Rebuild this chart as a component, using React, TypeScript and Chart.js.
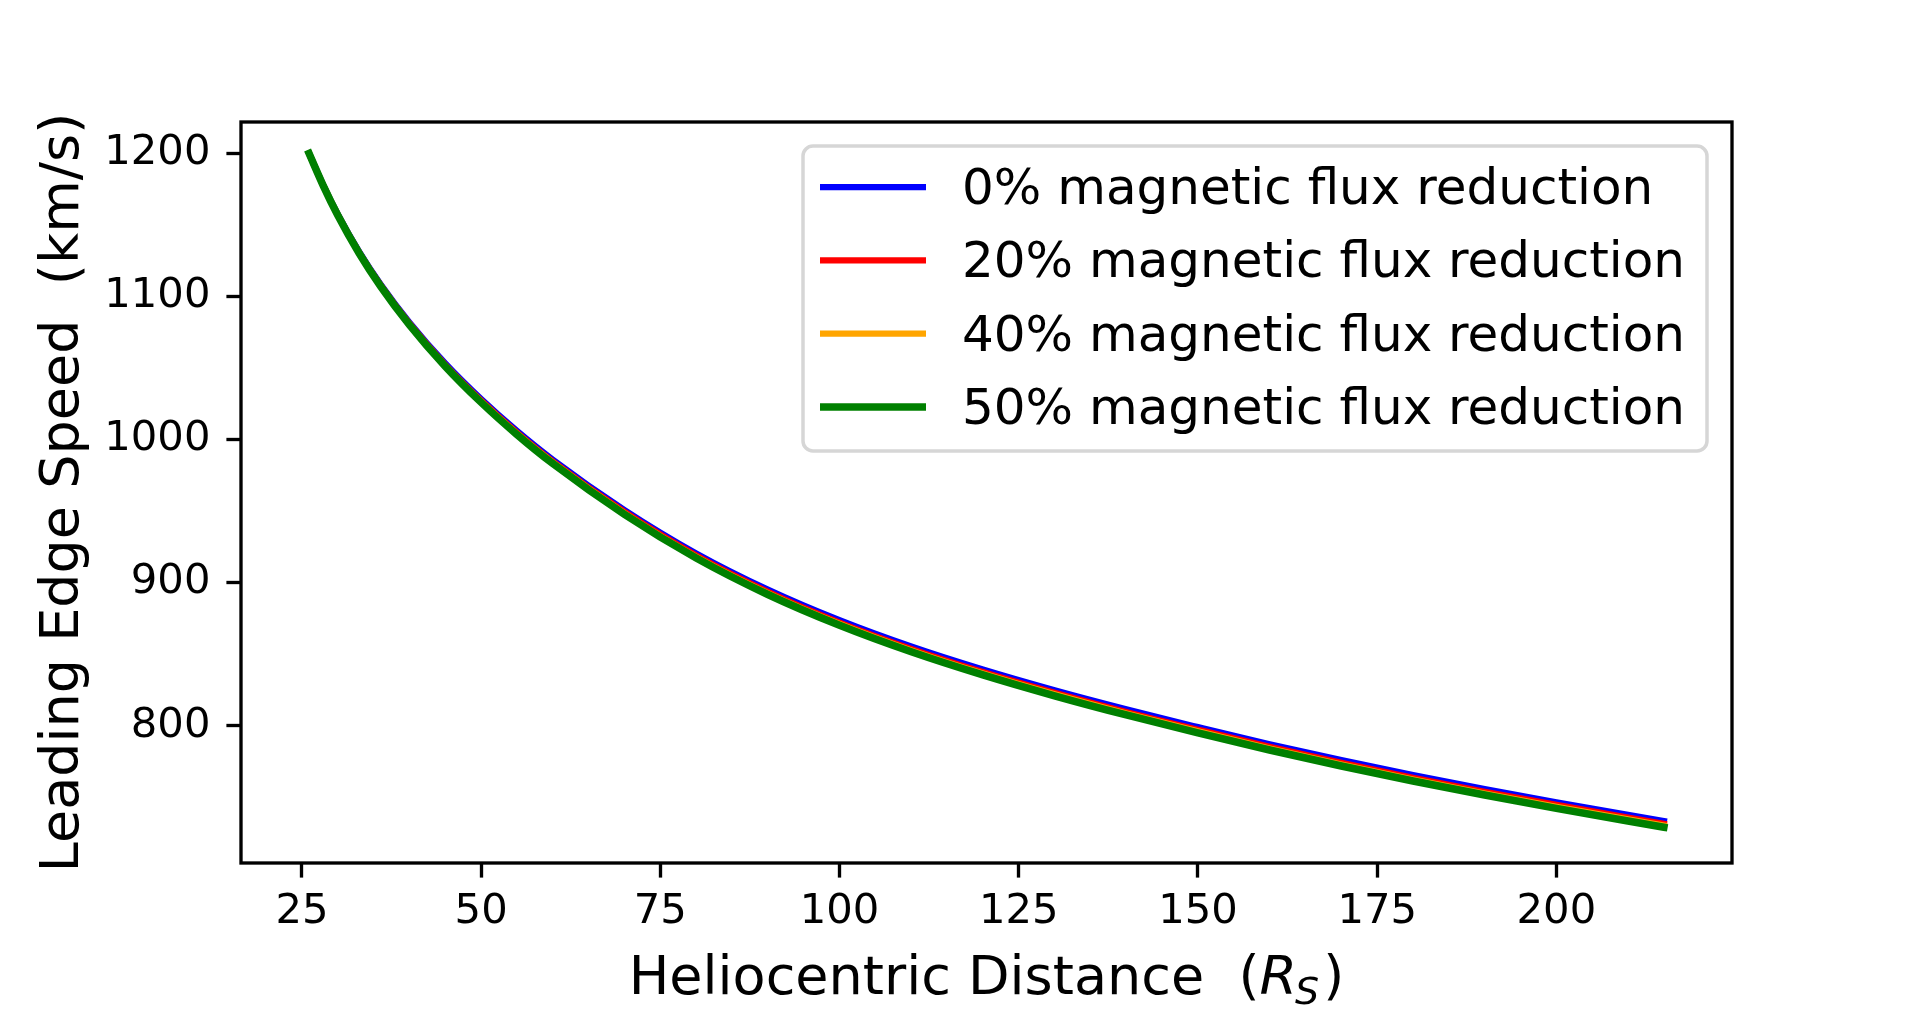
import { useEffect, useRef } from 'react';
import { Chart, registerables } from 'chart.js';

Chart.register(...registerables);

// heliocentric distance (R_S) and leading edge speed (km/s)
const distance = [26, 28, 30, 33, 36, 40, 45, 50, 55, 60, 70, 80, 90, 100, 110, 120, 130, 140, 150, 160, 170, 180, 190, 200, 215];
const speed0 = [1200, 1177.6, 1157.5, 1131.2, 1108.4, 1081.9, 1053.2, 1028.3, 1006.0, 985.9, 950.7, 920.4, 895.1, 873.7, 855.3, 839.2, 824.7, 811.4, 799.0, 787.0, 775.9, 765.5, 755.7, 746.5, 733.3];
const speed20 = [1200, 1177.4, 1157.2, 1130.7, 1107.8, 1081.1, 1052.3, 1027.3, 1004.9, 984.7, 949.4, 919.0, 893.6, 872.1, 853.7, 837.5, 823.0, 809.6, 797.2, 785.2, 774.1, 763.6, 753.8, 744.6, 731.4];
const speed40 = [1200, 1177.3, 1157.0, 1130.4, 1107.4, 1080.6, 1051.7, 1026.6, 1004.1, 983.9, 948.5, 918.0, 892.6, 871.1, 852.6, 836.4, 821.9, 808.5, 796.0, 784.0, 772.8, 762.4, 752.6, 743.3, 730.1];
const speed50 = [1200, 1177.2, 1156.8, 1130.1, 1107.0, 1080.2, 1051.2, 1026.0, 1003.5, 983.2, 947.7, 917.2, 891.7, 870.2, 851.7, 835.5, 820.9, 807.5, 795.0, 783.0, 771.8, 761.3, 751.5, 742.2, 729.0];

const seriesLabels = [
  '0% magnetic flux reduction',
  '20% magnetic flux reduction',
  '40% magnetic flux reduction',
  '50% magnetic flux reduction',
];
const seriesColors = ['#0000ff', '#ff0000', '#ffa500', '#008000'];
const seriesWidths = [6.25, 6.25, 6.25, 7.5];

const xTicks = [25, 50, 75, 100, 125, 150, 175, 200];
const yTicks = [800, 900, 1000, 1100, 1200];

const FONT = "'DejaVu Sans', 'Liberation Sans', sans-serif";

// spines, legend box and axis titles drawn the matplotlib way
const decorations = {
  id: 'decorations',
  afterDraw(chart: Chart) {
    const { ctx, chartArea: a } = chart;
    ctx.save();

    ctx.strokeStyle = '#000';
    ctx.lineWidth = 3.33;
    ctx.strokeRect(a.left, a.top, a.right - a.left, a.bottom - a.top);

    // legend
    const lx = 803, ly = 146, lw = 904, lh = 305;
    ctx.beginPath();
    ctx.roundRect(lx, ly, lw, lh, 10);
    ctx.fillStyle = 'rgba(255,255,255,0.8)';
    ctx.fill();
    ctx.strokeStyle = '#d6d6d6';
    ctx.lineWidth = 3.5;
    ctx.stroke();

    ctx.font = `50px ${FONT}`;
    ctx.textAlign = 'left';
    ctx.textBaseline = 'alphabetic';
    seriesLabels.forEach((label, i) => {
      const y = 187 + i * 73.3;
      ctx.beginPath();
      ctx.moveTo(820, y);
      ctx.lineTo(926, y);
      ctx.strokeStyle = seriesColors[i];
      ctx.lineWidth = seriesWidths[i];
      ctx.lineCap = 'butt';
      ctx.stroke();
      ctx.fillStyle = '#000';
      ctx.fillText(label, 962, y + 17);
    });

    // x title with math R_S
    const base = 994;
    const part1 = 'Heliocentric Distance  (';
    ctx.font = `54px ${FONT}`;
    const w1 = ctx.measureText(part1).width;
    ctx.font = `italic 54px ${FONT}`;
    const wR = ctx.measureText('R').width;
    ctx.font = `italic 38px ${FONT}`;
    const wS = ctx.measureText('S').width;
    ctx.font = `54px ${FONT}`;
    const wP = ctx.measureText(')').width;
    const total = w1 + wR + wS + 2 + wP;
    let x = (a.left + a.right) / 2 - total / 2;
    ctx.fillStyle = '#000';
    ctx.font = `54px ${FONT}`;
    ctx.fillText(part1, x, base);
    x += w1;
    ctx.font = `italic 54px ${FONT}`;
    ctx.fillText('R', x, base);
    x += wR;
    ctx.font = `italic 38px ${FONT}`;
    ctx.fillText('S', x - 2, base + 10);
    x += wS + 2;
    ctx.font = `54px ${FONT}`;
    ctx.fillText(')', x, base);

    // y title
    ctx.translate(78, (a.top + a.bottom) / 2);
    ctx.rotate(-Math.PI / 2);
    ctx.textAlign = 'center';
    ctx.font = `54px ${FONT}`;
    ctx.fillText('Leading Edge Speed  (km/s)', 0, 0);

    ctx.restore();
  },
};

const App = () => {
  const canvasRef = useRef<HTMLCanvasElement | null>(null);
  const chartRef = useRef<Chart | null>(null);

  useEffect(() => {
    document.body.style.margin = '0';
    document.body.style.overflow = 'hidden';
    if (!canvasRef.current) return;
    const ctx = canvasRef.current.getContext('2d');
    if (!ctx) return;

    if (chartRef.current) {
      chartRef.current.destroy();
    }

    const series = [speed0, speed20, speed40, speed50];

    chartRef.current = new Chart(ctx, {
      type: 'line',
      data: {
        datasets: series.map((values, i) => ({
          label: seriesLabels[i],
          data: distance.map((d, j) => ({ x: d, y: values[j] })),
          borderColor: seriesColors[i],
          borderWidth: seriesWidths[i],
          borderCapStyle: 'square',
          borderJoinStyle: 'round',
          pointRadius: 0,
          cubicInterpolationMode: 'monotone',
          fill: false,
          order: 3 - i,
        })),
      },
      options: {
        responsive: false,
        animation: false,
        devicePixelRatio: 1,
        layout: { padding: { top: 122, right: 192, left: 0, bottom: 0 } },
        plugins: {
          legend: { display: false },
          tooltip: { enabled: false },
          title: { display: false },
        },
        scales: {
          x: {
            type: 'linear',
            min: 16.5,
            max: 224.5,
            afterBuildTicks: (scale: any) => {
              scale.ticks = xTicks.map((v) => ({ value: v }));
            },
            afterFit: (scale: any) => {
              scale.height = 152;
            },
            ticks: {
              color: '#000',
              font: { family: FONT, size: 41.7 },
              padding: 10,
              maxRotation: 0,
              autoSkip: false,
              callback: (v: any) => String(v),
            },
            grid: {
              drawOnChartArea: false,
              drawTicks: true,
              tickLength: 14.6,
              tickWidth: 3.33,
              tickColor: '#000',
            },
            border: { display: false },
          },
          y: {
            type: 'linear',
            min: 704,
            max: 1222,
            afterBuildTicks: (scale: any) => {
              scale.ticks = yTicks.map((v) => ({ value: v }));
            },
            afterFit: (scale: any) => {
              scale.width = 241;
            },
            ticks: {
              color: '#000',
              font: { family: FONT, size: 41.7 },
              padding: 16,
              autoSkip: false,
              callback: (v: any) => String(v),
            },
            grid: {
              drawOnChartArea: false,
              drawTicks: true,
              tickLength: 14.6,
              tickWidth: 3.33,
              tickColor: '#000',
            },
            border: { display: false },
          },
        },
      },
      plugins: [decorations],
    });

    return () => {
      chartRef.current?.destroy();
      chartRef.current = null;
    };
  }, []);

  return (
    <div style={{ width: 1924, height: 1015, background: '#fff' }}>
      <canvas ref={canvasRef} width={1924} height={1015} style={{ display: 'block' }} />
    </div>
  );
};

export default App;
